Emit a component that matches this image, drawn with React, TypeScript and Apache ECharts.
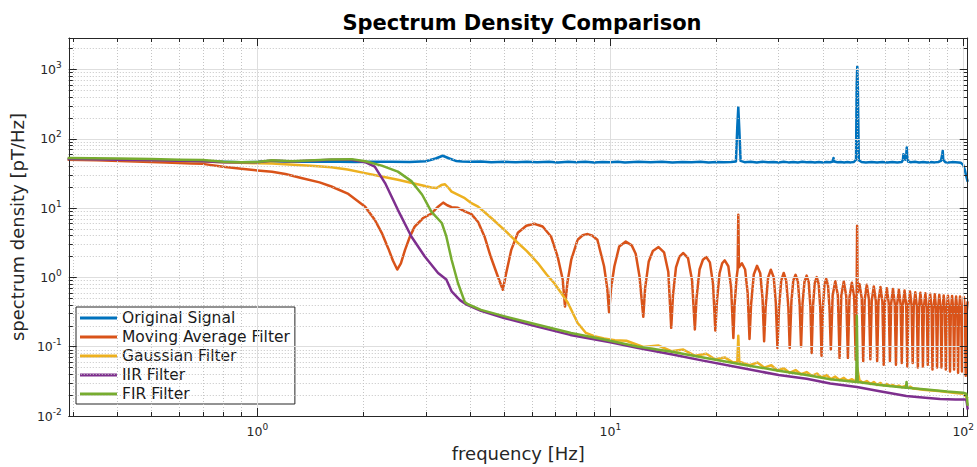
import React, { useEffect, useRef } from "react";
import * as echarts from "echarts";

const FONT = "'DejaVu Sans', 'Noto Sans', sans-serif";
const TEXT = "#262626";

const seriesNames = ["Original Signal", "Moving Average Filter", "Gaussian Filter", "IIR Filter", "FIR Filter"];
const seriesColors = ["#0072BD", "#D95319", "#EDB120", "#7E2F8E", "#77AC30"];

const xMajorTicks = [1, 10, 100];
const xMinorTicks = [0.3, 0.4, 0.5, 0.6, 0.7, 0.8, 0.9, 2, 3, 4, 5, 6, 7, 8, 9, 20, 30, 40, 50, 60, 70, 80, 90];
const yMajorTicks = [0.01, 0.1, 1, 10, 100, 1000];
const yMinorTicks = [
  0.02, 0.03, 0.04, 0.05, 0.06, 0.07, 0.08, 0.09,
  0.2, 0.3, 0.4, 0.5, 0.6, 0.7, 0.8, 0.9,
  2, 3, 4, 5, 6, 7, 8, 9,
  20, 30, 40, 50, 60, 70, 80, 90,
  200, 300, 400, 500, 600, 700, 800, 900,
  2000,
];
const xRange = [0.292, 103];
const yRange = [0.01, 2850];

const originalSignal: [number, number][] = [
  [0.29, 51], [0.35, 50.5], [0.4, 50], [0.5, 49.5], [0.6, 48.5], [0.7, 47.5], [0.8, 46.5], [0.9, 46],
  [1.0, 46.5], [1.1, 47.5], [1.2, 47], [1.35, 46.5], [1.5, 46.8], [1.7, 46.5], [1.9, 46.2], [2.1, 46.5],
  [2.4, 46.8], [2.7, 46.4], [3.0, 47.5], [3.2, 52], [3.35, 57], [3.5, 52], [3.65, 48], [3.8, 47],
  [4.0, 46.5], [4.3, 47.2], [4.6, 46], [5.0, 46.8], [5.4, 45.8], [5.8, 46.6], [6.2, 46], [6.7, 46.8],
  [7.1, 45.5], [7.6, 46.5], [8.0, 45.8], [8.5, 46.6], [9.0, 45.6], [9.5, 46.4], [10, 45.8], [10.5, 46.6],
  [11, 45.5], [12, 46.5], [13, 45.8], [14, 46.8], [15, 45.7], [16, 46.4], [17, 45.9], [18, 46.7],
  [19, 45.5], [20, 46.3], [21, 45.8], [22, 46.2], [22.7, 47], [22.9, 150], [23.05, 285], [23.2, 140],
  [23.4, 48], [24, 46], [25, 46.8], [26, 45.6], [27, 46.6], [28, 45.8], [29, 46.3], [30, 45.5],
  [31, 46.6], [32, 45.7], [33, 46.4], [34, 45.6], [35, 46.5], [36, 45.8], [37, 46.2], [38, 45.5],
  [39, 46.3], [40, 45.7], [41, 46.4], [42, 45.8], [42.7, 47], [42.9, 53], [43.1, 47], [44, 45.8],
  [45, 46.3], [46, 45.6], [47, 46.2], [48, 45.7], [49, 46.3], [49.7, 50], [49.9, 600], [50.1, 1100],
  [50.3, 520], [50.6, 49], [51.5, 46.3], [53, 45.7], [55, 46.4], [57, 45.6], [59, 46.2], [61, 45.5],
  [63, 46.3], [65, 45.7], [67, 46.2], [67.5, 50], [67.7, 60], [67.9, 52], [68.5, 50], [69, 62],
  [69.2, 75], [69.4, 55], [69.8, 47], [71, 46], [73, 46.5], [75, 45.6], [77, 46.2], [79, 45.5],
  [81, 46.1], [83, 45.7], [85, 46.3], [86.5, 48], [87.3, 62], [87.5, 67], [87.8, 50], [89, 46],
  [91, 45.6], [93, 46.1], [95, 45.8], [97, 45.5], [98.5, 45], [100, 42], [101, 36], [102, 29], [103, 24],
];

const movingAverage: [number, number][] = [
  [0.29, 50], [0.35, 49], [0.45, 47], [0.55, 45.5], [0.65, 44], [0.7, 43.5], [0.8, 39.5], [0.9, 37],
  [1.0, 35], [1.1, 33.5], [1.2, 31], [1.34, 27], [1.5, 23.5], [1.62, 20.5], [1.81, 16], [2.02, 10.5],
  [2.15, 6.8], [2.25, 4.4], [2.35, 2.6], [2.42, 1.75], [2.49, 1.3], [2.55, 1.6], [2.62, 2.5], [2.7, 3.8],
  [2.79, 5.4], [2.95, 7.2], [3.11, 8.3], [3.25, 10.5], [3.36, 12], [3.45, 11], [3.55, 10.3], [3.7, 10.1],
  [3.87, 9.0], [4.04, 8.2], [4.22, 6.3], [4.4, 3.9], [4.58, 2.0], [4.8, 1.03], [4.96, 0.665],
  [5.07, 1.16], [5.24, 2.5], [5.47, 4.4], [5.78, 5.55], [6.09, 5.94], [6.43, 5.43], [6.79, 3.9], [7.09, 2.0], [7.33, 0.93], [7.44, 0.38],
  [7.56, 0.85], [7.75, 1.8], [8.08, 3.5], [8.35, 4.05], [8.63, 4.22], [8.9, 4.0], [9.19, 3.5], [9.6, 1.45], [9.8, 0.7], [9.92, 0.313],
  [10.05, 0.7], [10.27, 1.45], [10.6, 2.8], [11.06, 3.3], [11.5, 2.9], [11.8, 2.2], [12.1, 1.03], [12.4, 0.27],
  [12.55, 0.7], [12.85, 1.7], [13.2, 2.4], [13.7, 2.74], [14.2, 2.3], [14.6, 1.2], [14.88, 0.187],
  [15.05, 0.55], [15.35, 1.4], [15.7, 2.0], [16.1, 2.25], [16.6, 1.9], [17.05, 0.9], [17.36, 0.177],
  [17.55, 0.5], [17.9, 1.3], [18.3, 1.8], [18.7, 1.97], [19.15, 1.65], [19.55, 0.8], [19.84, 0.171],
  [20.05, 0.45], [20.4, 1.15], [20.75, 1.6], [21.1, 1.76], [21.6, 1.45], [22.0, 0.7], [22.32, 0.134],
  [22.5, 0.4], [22.8, 1.0], [22.95, 1.3], [23.05, 8.0], [23.15, 1.4], [23.6, 1.6], [24.1, 1.3], [24.5, 0.6], [24.8, 0.129],
  [25.05, 0.4], [25.5, 1.1], [26.05, 1.47], [26.6, 1.15], [27.0, 0.5], [27.28, 0.12],
  [27.55, 0.38], [28.0, 1.0], [28.5, 1.29], [29.05, 1.0], [29.45, 0.42], [29.76, 0.096],
  [30.05, 0.35], [30.5, 0.9], [31.0, 1.16], [31.5, 0.9], [31.95, 0.38], [32.24, 0.096],
  [32.6, 0.45], [33.0, 0.9], [33.5, 1.09], [34.0, 0.88], [34.4, 0.4], [34.72, 0.101],
  [35.05, 0.42], [35.5, 0.87], [36.0, 1.06], [36.5, 0.85], [36.9, 0.38], [37.2, 0.081],
  [37.55, 0.4], [37.95, 0.82], [38.45, 1.01], [38.95, 0.8], [39.35, 0.36], [39.68, 0.074],
  [40.05, 0.38], [40.45, 0.78], [40.9, 0.95], [41.4, 0.76], [41.8, 0.35], [42.16, 0.091],
  [42.66, 0.55], [43.4, 0.88], [44.14, 0.55], [44.64, 0.069],
  [45.14, 0.55], [45.88, 0.875], [46.62, 0.54], [47.12, 0.069],
  [47.62, 0.52], [48.36, 0.84], [49.1, 0.52], [49.6, 0.065],
  [49.85, 0.35], [50.05, 5.55], [50.2, 0.6], [50.84, 0.8], [51.58, 0.5], [52.08, 0.062],
  [52.58, 0.48], [53.32, 0.785], [54.06, 0.48], [54.56, 0.066],
  [55.06, 0.46], [55.8, 0.74], [56.54, 0.46], [57.04, 0.062],
  [57.54, 0.45], [58.28, 0.727], [59.02, 0.45], [59.52, 0.055],
  [60.02, 0.44], [60.76, 0.7], [61.5, 0.43], [62.0, 0.062],
  [62.5, 0.42], [63.24, 0.68], [63.98, 0.42], [64.48, 0.055],
  [64.98, 0.41], [65.72, 0.665], [66.46, 0.41], [66.96, 0.058],
  [67.46, 0.4], [68.2, 0.645], [68.94, 0.4], [69.44, 0.052],
  [69.94, 0.39], [70.68, 0.625], [71.42, 0.39], [71.92, 0.058],
  [72.42, 0.38], [73.16, 0.61], [73.9, 0.38], [74.4, 0.05],
  [74.9, 0.37], [75.64, 0.6], [76.38, 0.37], [76.88, 0.052],
  [77.38, 0.37], [78.12, 0.59], [78.86, 0.36], [79.36, 0.055],
  [79.86, 0.36], [80.6, 0.58], [81.34, 0.36], [81.84, 0.047],
  [82.34, 0.35], [83.08, 0.57], [83.82, 0.35], [84.32, 0.05],
  [84.82, 0.35], [85.56, 0.56], [86.3, 0.34], [86.8, 0.05],
  [87.3, 0.34], [88.04, 0.55], [88.78, 0.34], [89.28, 0.047],
  [89.78, 0.34], [90.52, 0.545], [91.26, 0.33], [91.76, 0.044],
  [92.26, 0.33], [93.0, 0.54], [93.74, 0.33], [94.24, 0.047],
  [94.74, 0.33], [95.48, 0.53], [96.22, 0.32], [96.72, 0.042],
  [97.22, 0.32], [97.96, 0.53], [98.7, 0.32], [99.2, 0.044],
  [99.7, 0.32], [100.44, 0.52], [101.18, 0.31], [101.68, 0.038],
  [102.2, 0.3], [102.9, 0.45],
];

const gaussianFilter: [number, number][] = [
  [0.29, 51], [0.4, 50], [0.5, 49], [0.6, 48], [0.7, 47], [0.85, 45.5], [1.0, 44.5], [1.1, 44],
  [1.3, 42], [1.45, 40.5], [1.62, 39], [1.8, 36], [2.02, 32], [2.25, 28.5], [2.5, 25.6], [2.8, 22.5],
  [3.11, 19.8], [3.22, 19.5], [3.32, 21.5], [3.4, 22.1], [3.48, 19.5], [3.55, 17.3], [3.87, 13.9],
  [4.04, 11.8], [4.22, 10.5], [4.6, 7.2], [5.0, 4.9], [5.35, 3.5], [5.8, 2.4], [6.23, 1.61], [6.6, 1.1],
  [6.93, 0.83], [7.25, 0.6], [7.58, 0.43], [8.08, 0.22], [8.53, 0.158], [9.0, 0.142], [9.6, 0.131],
  [10.3, 0.124], [11.1, 0.122], [12.4, 0.099], [13.7, 0.104], [14.9, 0.086], [16.1, 0.091], [17.4, 0.074],
  [18.7, 0.079], [19.8, 0.066], [21.1, 0.07], [22.3, 0.059], [22.9, 0.06], [23.05, 0.144], [23.2, 0.061],
  [24.8, 0.054], [26.1, 0.059], [27.3, 0.05], [28.6, 0.054], [29.8, 0.045], [31.0, 0.049], [32.2, 0.042],
  [33.5, 0.046], [34.7, 0.04], [36, 0.043], [37.2, 0.038], [38.5, 0.041], [39.7, 0.036], [41, 0.039],
  [42.2, 0.034], [43.4, 0.037], [44.6, 0.033], [45.9, 0.0355], [47.1, 0.032], [48.4, 0.034], [49.6, 0.031],
  [50.05, 0.05], [50.8, 0.033], [52, 0.03], [53.3, 0.032], [54.6, 0.029], [55.8, 0.031], [57, 0.028],
  [58.3, 0.03], [59.5, 0.0275], [60.8, 0.029], [62, 0.027], [63.2, 0.028], [64.5, 0.0265], [65.7, 0.0275],
  [67, 0.026], [68.2, 0.027], [69.4, 0.0255], [70.7, 0.0265], [72, 0.025], [74.4, 0.0245], [77, 0.024],
  [80, 0.0235], [85, 0.023], [90, 0.0222], [95, 0.0215], [100, 0.021], [103, 0.018],
];

const iirFilter: [number, number][] = [
  [0.29, 51], [0.5, 49], [0.7, 47.5], [0.8, 46], [1.0, 46], [1.1, 48.5], [1.25, 47], [1.62, 50],
  [1.85, 50], [2.02, 46], [2.15, 39.8], [2.3, 23], [2.5, 9.45], [2.73, 3.9], [2.98, 2.0], [3.25, 1.16],
  [3.43, 0.93], [3.55, 0.63], [3.75, 0.47], [3.9, 0.41], [4.3, 0.33], [5.0, 0.26], [6.2, 0.195],
  [7.7, 0.148], [10, 0.116], [12, 0.096], [15, 0.077], [18, 0.064], [23.4, 0.0496], [30, 0.039],
  [36, 0.0345], [42, 0.0294], [50, 0.0263], [58, 0.0228], [69, 0.0194], [78, 0.0183], [86, 0.0176],
  [95, 0.0173], [102, 0.0173], [102.5, 0.015], [103, 0.0124],
];

const firFilter: [number, number][] = [
  [0.29, 53], [0.4, 52], [0.5, 51], [0.6, 50], [0.7, 49.5], [0.8, 46.5], [0.9, 46], [1.0, 46.3],
  [1.1, 49], [1.25, 47.5], [1.45, 49], [1.62, 50.5], [1.85, 50.9], [2.02, 47.5], [2.25, 41], [2.5, 33.6],
  [2.73, 24.5], [2.93, 15.6], [3.11, 8.9], [3.33, 6.1], [3.43, 3.9], [3.55, 1.8], [3.7, 0.83], [3.87, 0.44],
  [3.95, 0.41], [4.3, 0.34], [5.02, 0.274], [6.23, 0.208], [7.74, 0.158], [9.6, 0.127], [11.9, 0.101],
  [14.8, 0.085], [18, 0.071], [23.4, 0.056], [30, 0.045], [36, 0.039], [42, 0.034], [49.8, 0.031],
  [49.95, 0.28], [50.1, 0.28], [50.25, 0.031], [58, 0.028], [68.8, 0.0255], [69.1, 0.031], [69.4, 0.0255],
  [80, 0.024], [90, 0.0225], [100, 0.0216], [102, 0.021], [102.5, 0.018], [103, 0.014],
];

const seriesData = [originalSignal, movingAverage, gaussianFilter, iirFilter, firFilter];

const supLabel = (v: number) => {
  const e = Math.round(Math.log10(v));
  return "{b|10}{s|" + e + "}";
};

const labelRich = {
  b: { fontSize: 12.5, color: TEXT, fontFamily: FONT, lineHeight: 18 },
  s: { fontSize: 9, color: TEXT, fontFamily: FONT, verticalAlign: "top", lineHeight: 10 },
};

function makeAxes(dim: "x" | "y") {
  const range = dim === "x" ? xRange : yRange;
  const major = dim === "x" ? xMajorTicks : yMajorTicks;
  const minor = dim === "x" ? xMinorTicks : yMinorTicks;
  const sides = dim === "x" ? ["bottom", "top"] : ["left", "right"];
  const base = { type: "log", logBase: 10, min: range[0], max: range[1], gridIndex: 0, z: 5 };
  const lineStyle = { color: TEXT, width: 1 };
  return [
    {
      ...base,
      position: sides[0],
      axisLine: { show: true, lineStyle },
      axisTick: { show: true, inside: true, length: 8, customValues: major, lineStyle },
      axisLabel: {
        show: true,
        customValues: major,
        formatter: supLabel,
        rich: labelRich,
        margin: dim === "x" ? 6 : 7,
      },
      splitLine: { show: true, lineStyle: { color: "#dedede", width: 1, type: "solid" } },
      minorTick: { show: false },
      name: dim === "x" ? "frequency [Hz]" : "spectrum density [pT/Hz]",
      nameLocation: "middle",
      nameGap: dim === "x" ? 28 : 33,
      nameTextStyle: { fontSize: 18, color: TEXT, fontFamily: FONT },
    },
    {
      ...base,
      position: sides[0],
      axisLine: { show: false },
      axisTick: { show: true, inside: true, length: 4, customValues: minor, lineStyle },
      axisLabel: { show: false },
      splitLine: { show: true, lineStyle: { color: "#c4c4c4", width: 1, type: [1, 2] } },
    },
    {
      ...base,
      position: sides[1],
      axisLine: { show: true, lineStyle },
      axisTick: { show: true, inside: true, length: 8, customValues: major, lineStyle },
      axisLabel: { show: false },
      splitLine: { show: false },
    },
    {
      ...base,
      position: sides[1],
      axisLine: { show: false },
      axisTick: { show: true, inside: true, length: 4, customValues: minor, lineStyle },
      axisLabel: { show: false },
      splitLine: { show: false },
    },
  ];
}

export default function App() {
  const ref = useRef<HTMLDivElement>(null);
  useEffect(() => {
    if (!ref.current) return;
    const chart = echarts.init(ref.current, undefined, { renderer: "svg" });
    chart.setOption({
      animation: false,
      backgroundColor: "#ffffff",
      textStyle: { fontFamily: FONT },
      title: {
        text: "Spectrum Density Comparison",
        left: 517,
        textAlign: "center",
        top: 7,
        textStyle: { fontSize: 21, fontWeight: "bold", color: "#000", fontFamily: FONT },
      },
      grid: { left: 66, top: 38, width: 902, height: 378, containLabel: false },
      xAxis: makeAxes("x"),
      yAxis: makeAxes("y"),
      legend: {
        data: seriesNames,
        orient: "vertical",
        left: 76,
        top: 307,
        backgroundColor: "#ffffff",
        borderColor: TEXT,
        borderWidth: 1,
        borderRadius: 0,
        padding: [3, 5, 2, 4],
        itemGap: 3,
        itemWidth: 37,
        itemHeight: 3,
        icon: "rect",
        selectedMode: false,
        textStyle: { fontSize: 15.5, color: "#1a1a1a", fontFamily: FONT, lineHeight: 16 },
      },
      series: seriesNames.map((name, i) => ({
        name,
        type: "line",
        data: seriesData[i],
        xAxisIndex: 0,
        yAxisIndex: 0,
        showSymbol: false,
        symbol: "none",
        color: seriesColors[i],
        lineStyle: { color: seriesColors[i], width: 2.5, join: "round" },
        z: 2 + i,
        clip: true,
      })),
    });
    return () => chart.dispose();
  }, []);
  return <div ref={ref} style={{ position: "fixed", left: 0, top: 0, width: 977, height: 467 }} />;
}
